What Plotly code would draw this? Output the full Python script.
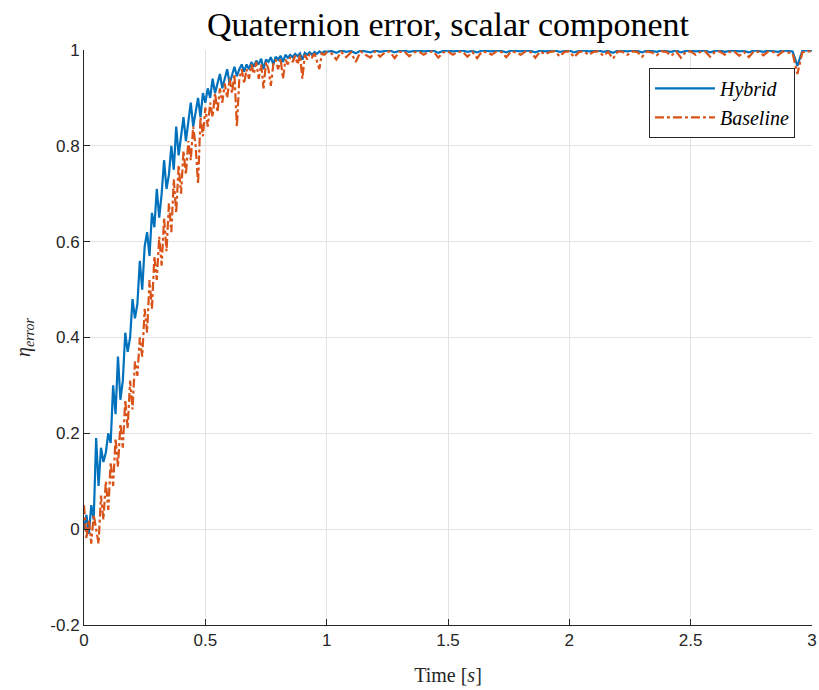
import plotly.graph_objects as go

# Transient phase, sampled every 10 ms from 0 to 1.0 s
t_early = [round(0.01 * i, 2) for i in range(101)]

hybrid_early = [
    0.00, 0.03, -0.01, 0.05, 0.02, 0.19, 0.09, 0.17, 0.14, 0.16,
    0.20, 0.18, 0.30, 0.24, 0.36, 0.27, 0.31, 0.41, 0.37, 0.40,
    0.48, 0.44, 0.47, 0.56, 0.50, 0.59, 0.62, 0.57, 0.66, 0.63,
    0.71, 0.65, 0.70, 0.77, 0.71, 0.74, 0.80, 0.75, 0.84, 0.78,
    0.82, 0.86, 0.81, 0.85, 0.89, 0.84, 0.87, 0.90, 0.86, 0.91,
    0.89, 0.92, 0.90, 0.94, 0.91, 0.93, 0.95, 0.92, 0.94, 0.96,
    0.93, 0.95, 0.965, 0.945, 0.96, 0.97, 0.955, 0.97, 0.96, 0.975,
    0.965, 0.978, 0.97, 0.982, 0.96, 0.98, 0.975, 0.985, 0.97, 0.986,
    0.98, 0.988, 0.975, 0.99, 0.984, 0.99, 0.985, 0.992, 0.987, 0.993,
    0.98, 0.994, 0.99, 0.995, 0.99, 0.996, 0.992, 0.997, 0.993, 0.997,
    0.996,
]

baseline_early = [
    0.05, -0.02, 0.02, -0.03, 0.03, 0.00, -0.03, 0.07, 0.02, 0.10,
    0.04, 0.14, 0.09, 0.19, 0.13, 0.22, 0.17, 0.27, 0.21, 0.31,
    0.25, 0.35, 0.32, 0.40, 0.36, 0.46, 0.41, 0.52, 0.46, 0.57,
    0.52, 0.61, 0.55, 0.65, 0.58, 0.68, 0.62, 0.73, 0.66, 0.76,
    0.70, 0.79, 0.74, 0.81, 0.77, 0.84, 0.80, 0.72, 0.86, 0.82,
    0.88, 0.84, 0.89, 0.86, 0.91, 0.87, 0.92, 0.89, 0.93, 0.90,
    0.94, 0.91, 0.95, 0.84, 0.94, 0.96, 0.93, 0.96, 0.94, 0.97,
    0.95, 0.975, 0.94, 0.97, 0.92, 0.975, 0.96, 0.925, 0.97, 0.98,
    0.96, 0.982, 0.94, 0.98, 0.97, 0.985, 0.975, 0.988, 0.97, 0.99,
    0.94, 0.99, 0.98, 0.992, 0.985, 0.993, 0.975, 0.96, 0.993, 0.99,
    0.995,
]

# Steady phase, sampled every 20 ms from 1.02 to 3.0 s
t_late = [round(1.0 + 0.02 * i, 2) for i in range(1, 101)]

hybrid_late = [
    0.998, 0.994, 0.999, 0.996, 0.998, 0.993, 0.999, 0.997, 0.995, 0.999,
    0.996, 0.998, 0.999, 0.995, 0.998, 0.999, 0.996, 0.998, 0.999, 0.997,
    0.998, 0.999, 0.994, 0.998, 0.999, 0.997, 0.998, 0.999, 0.996, 0.998,
    0.995, 0.999, 0.998, 0.997, 0.999, 0.998, 0.995, 0.999, 0.998, 0.997,
    0.999, 0.998, 0.995, 0.999, 0.997, 0.998, 0.999, 0.996, 0.998, 0.999,
    0.995, 0.998, 0.999, 0.997, 0.998, 0.999, 0.996, 0.998, 0.994, 0.999,
    0.998, 0.997, 0.999, 0.998, 0.995, 0.999, 0.998, 0.996, 0.999, 0.998,
    0.996, 0.999, 0.995, 0.998, 0.999, 0.997, 0.998, 0.999, 0.995, 0.998,
    0.999, 0.996, 0.998, 0.999, 0.997, 0.998, 0.995, 0.999, 0.998, 0.996,
    0.999, 0.998, 0.996, 0.999, 0.998, 0.997, 0.967, 0.998, 0.999, 0.999,
]

baseline_late = [
    0.993, 0.980, 0.996, 0.985, 0.995, 0.975, 0.997, 0.990, 0.984, 0.997,
    0.986, 0.995, 0.997, 0.983, 0.996, 0.997, 0.987, 0.995, 0.997, 0.990,
    0.996, 0.997, 0.984, 0.995, 0.997, 0.990, 0.996, 0.997, 0.986, 0.996,
    0.983, 0.997, 0.995, 0.990, 0.997, 0.996, 0.985, 0.997, 0.995, 0.990,
    0.997, 0.996, 0.984, 0.997, 0.991, 0.996, 0.997, 0.987, 0.996, 0.997,
    0.985, 0.996, 0.997, 0.990, 0.996, 0.997, 0.988, 0.996, 0.982, 0.997,
    0.996, 0.990, 0.997, 0.996, 0.986, 0.997, 0.995, 0.989, 0.997, 0.996,
    0.988, 0.997, 0.984, 0.996, 0.997, 0.990, 0.996, 0.997, 0.986, 0.996,
    0.997, 0.990, 0.996, 0.997, 0.988, 0.996, 0.985, 0.997, 0.996, 0.989,
    0.997, 0.996, 0.989, 0.997, 0.995, 0.993, 0.950, 0.995, 0.997, 0.997,
]

time_s = t_early + t_late
hybrid = hybrid_early + hybrid_late
baseline = baseline_early + baseline_late

x_ticks = [0, 0.5, 1, 1.5, 2, 2.5, 3]
x_tick_text = ["0", "0.5", "1", "1.5", "2", "2.5", "3"]
y_ticks = [-0.2, 0, 0.2, 0.4, 0.6, 0.8, 1]
y_tick_text = ["-0.2", "0", "0.2", "0.4", "0.6", "0.8", "1"]

SERIF = "Liberation Serif, DejaVu Serif, serif"
SANS = "Liberation Sans, Arial, sans-serif"

fig = go.Figure()
fig.add_trace(go.Scatter(
    x=time_s, y=hybrid, mode="lines", name="<i>Hybrid</i>",
    line=dict(color="#0072BD", width=2.2),
))
fig.add_trace(go.Scatter(
    x=time_s, y=baseline, mode="lines", name="<i>Baseline</i>",
    line=dict(color="#D95319", width=2.2, dash="dashdot"),
))

axis_common = dict(
    showgrid=True, gridcolor="#E3E3E3", gridwidth=1,
    zeroline=False, showline=True, linecolor="#262626", linewidth=1,
    ticks="inside", ticklen=6, tickcolor="#262626",
    tickfont=dict(family=SANS, size=17, color="#262626"),
    automargin=False,
)

fig.update_xaxes(
    range=[0, 3], tickvals=x_ticks, ticktext=x_tick_text,
    title=dict(text="Time [<i>s</i>]", font=dict(family=SERIF, size=20, color="#262626"), standoff=18),
    **axis_common,
)
fig.update_yaxes(
    range=[-0.2, 1], tickvals=y_ticks, ticktext=y_tick_text,
    title=dict(text="<i>η<sub>error</sub></i>", font=dict(family=SERIF, size=20, color="#262626"), standoff=14),
    **axis_common,
)

fig.update_layout(
    width=819, height=690,
    margin=dict(l=84, r=7, t=50, b=65),
    paper_bgcolor="white", plot_bgcolor="white",
    title=dict(
        text="Quaternion error, scalar component",
        font=dict(family=SERIF, size=34, color="black"),
        x=0.5, xref="paper", xanchor="center", y=0.965, yanchor="middle",
    ),
    legend=dict(
        x=0.9766, y=0.969, xanchor="right", yanchor="top",
        bgcolor="white", bordercolor="#262626", borderwidth=1,
        font=dict(family=SERIF, size=20, color="black"),
        tracegroupgap=0, itemwidth=60,
    ),
    showlegend=True,
)

fig.write_html("out.html")
